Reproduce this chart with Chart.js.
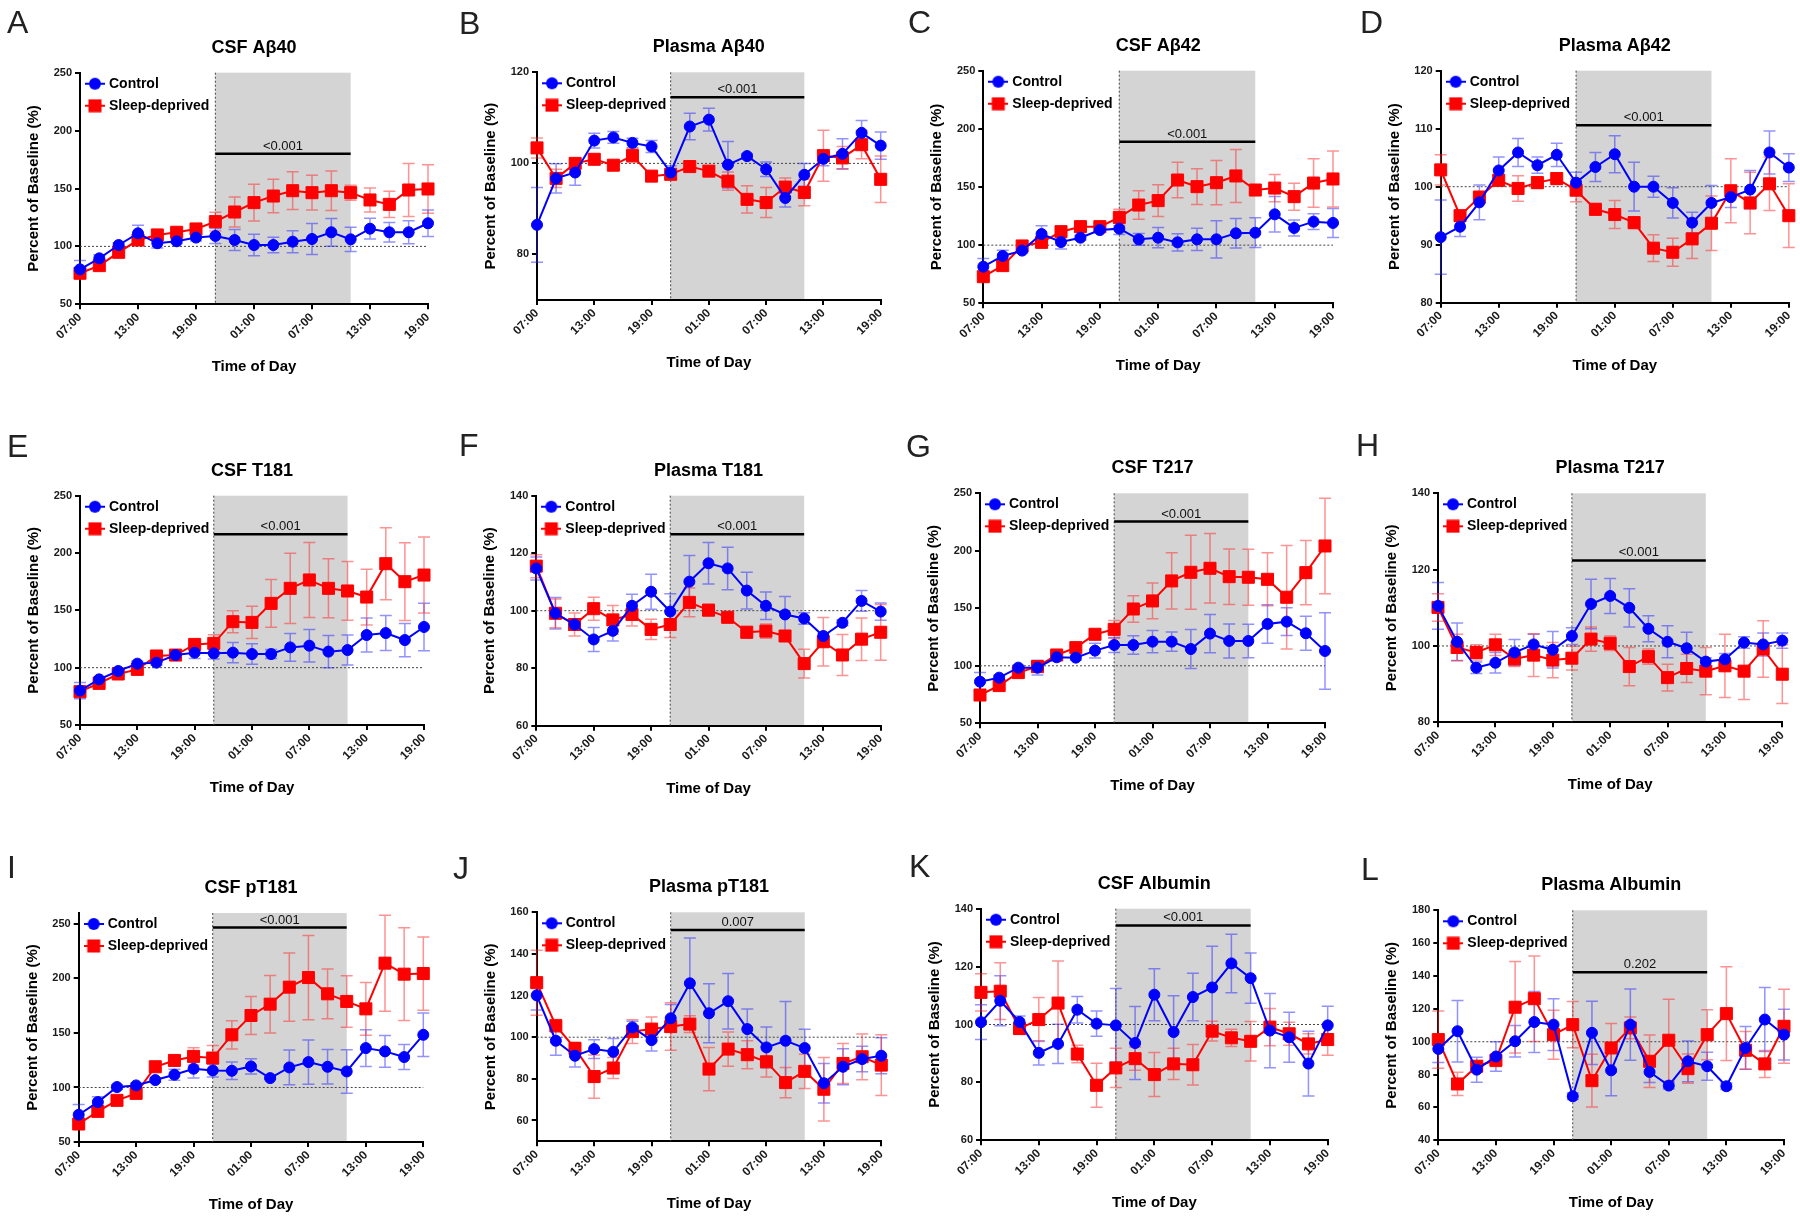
<!doctype html>
<html lang="en">
<head>
<meta charset="utf-8">
<title>Percent of baseline, control vs sleep-deprived</title>
<style>
  body { margin: 0; background: #fff; }
  #fig { position: relative; width: 1800px; height: 1217px; }
  #fig canvas { position: absolute; }
</style>
<script src="https://cdn.jsdelivr.net/npm/chart.js@4.4.0/dist/chart.umd.min.js"></script>
</head>
<body>
<div id="fig"></div>
<script>
// sampling times, every 2 h from 07:00 to 19:00 the next day
const times = ['07:00','09:00','11:00','13:00','15:00','17:00','19:00','21:00','23:00','01:00','03:00',
               '05:00','07:00','09:00','11:00','13:00','15:00','17:00','19:00'];
const nightFrom = 7, nightTo = 14;   // shaded window 21:00 -> 11:00

const letters = ['A','B','C','D','E','F','G','H','I','J','K','L'];
const titles = ['CSF Aβ40','Plasma Aβ40','CSF Aβ42','Plasma Aβ42','CSF T181','Plasma T181',
                'CSF T217','Plasma T217','CSF pT181','Plasma pT181','CSF Albumin','Plasma Albumin'];
const pValues = ['<0.001','<0.001','<0.001','<0.001','<0.001','<0.001','<0.001','<0.001','<0.001','0.007','<0.001','0.202'];
const sigLevel = [180, 114.5, 189, 110.6, 216.3, 126.6, 225.4, 122.4, 246.6, 151.5, 134.2, 142.3];
const yMin = [50, 70, 50, 80, 50, 60, 50, 80, 50, 50, 60, 40];
const yMax = [250, 120, 250, 120, 250, 140, 250, 140, 260, 160, 140, 180];
const yTicks = [
  [50,100,150,200,250], [80,100,120], [50,100,150,200,250], [80,90,100,110,120],
  [50,100,150,200,250], [60,80,100,120,140], [50,100,150,200,250], [80,100,120,140],
  [50,100,150,200,250], [60,80,100,120,140,160], [60,80,100,120,140], [40,60,80,100,120,140,160,180]
];

// mean and SEM, control (blue) and sleep-deprived (red)
const ctrlA = [80.2,89.7,101.2,111.3,102.7,104.4,107.6,109,105.5,101.2,101.2,104.1,106.4,112.2,106.1,115.3,112.2,112.2,120];
const ctrlSemA = [7.7,3,2,7,4,2,3,6.5,9,9.2,6.6,9.5,13.4,12,10.5,9,8.5,10,11.5];
const sleepA = [76.8,83.4,94.9,105.5,109.9,112.2,115,121.4,129.7,137.8,143.5,148.1,146.4,148.1,146.4,140.1,136.3,148.7,149.6];
const sleepSemA = [4,3,3,3,3,3,5,8,13,15.8,14.4,16.3,15,17,6.5,10.4,11.3,22.8,20.9];

const ctrlB = [86.5,96.7,98,105,105.7,104.5,103.7,98,108.1,109.6,99.7,101.6,98.7,92.4,97.5,101,102.1,106.7,103.9];
const ctrlSemB = [8.2,3.2,2.8,1.6,1.3,1,1.3,1.5,2.9,2.5,5.1,0.5,1.6,2,2.5,1.5,3.3,2.7,3];
const sleepB = [103.4,96.7,100,100.9,99.6,101.7,97.2,97.6,99.3,98.3,96.1,92.1,91.4,94.8,93.6,101.7,101.2,104.1,96.5];
const sleepSemB = [2.2,2,1,1,1,1.5,1,1,1,0.5,2,3,3.3,2,2.9,5.6,2.5,3.1,5.1];

const ctrlC = [81.5,90.7,95.3,109.6,102.7,106.4,113,114.2,105,106.4,102.4,105,105,110.2,110.7,126.5,114.8,120.2,119.1];
const ctrlSemC = [7,5,2,7,6,2,2,5,5,8.7,7.5,9.6,16,12.7,12.8,15.3,6.9,6.7,12.5];
const sleepC = [72.9,82.4,99.3,102.4,111.6,115.9,115.9,123.9,134.5,138.3,156,150.3,153.7,159.5,147.4,149.1,141.7,153.4,156.9];
const sleepSemC = [3,3,2,3,3,3,3,7,12.2,13.6,15.2,15.3,19,22.8,2,11.7,11.6,20.8,24];

const ctrlD = [91.3,93.1,97.3,102.8,105.9,103.7,105.5,100.7,103.4,105.6,100,100,97.2,93.8,97.2,98.2,99.5,105.9,103.3];
const ctrlSemD = [6.4,1.7,3,2.3,2.4,1.4,2,1.8,2.5,3.2,4.2,1.8,2.6,1.8,3,1.8,3.3,3.7,2.4];
const sleepD = [102.9,95,98.2,101.1,99.7,100.7,101.4,99.4,96.1,95.2,93.8,89.4,88.7,91,93.7,99.3,97.2,100.5,95];
const sleepSemD = [2.6,1,1,1,2.2,1,1,2,1,2.4,1,2.3,2.4,3.4,4.7,5.5,5.3,4.6,5.5];

const ctrlE = [80,89.8,97.1,103.5,104.4,111,113.1,112.5,113.1,111.9,111.9,117.7,119.2,114,115.4,128.5,130.2,124.1,135.5];
const ctrlSemE = [7,2,2,2,2,4,5,5,8.9,9,4,12,14.2,14,13,14.8,15.2,14.5,20.8];
const sleepE = [79.1,86.3,94.5,98.5,110.2,111,120.3,121.2,140.1,139.5,156.1,169.2,176.5,169.2,166.9,161.6,190.7,175,180.8];
const sleepSemE = [4,2,2,2,2,3,2,7.6,9.6,14.1,20.9,30.6,32.7,25.7,25.6,24.3,31.4,33.9,33.2];

const ctrlF = [114.7,99.1,95.2,90,93,101.7,106.6,99.7,110.1,116.5,114.7,107,101.7,98.7,97.3,91.2,95.8,103.4,99.7];
const ctrlSemF = [4,5.5,2,4.2,3.5,4,6.1,6.2,9.1,7.2,7.4,6.4,4.8,6.2,2,1,1,3.6,3];
const sleepF = [115.5,99.1,95.2,100.7,96.8,98.7,93.5,95.2,102.9,100.2,97.7,92.5,92.9,91.2,81.6,89.2,84.6,90.1,92.5];
const sleepSemF = [4,5,4,4,5,4,3.5,4.5,5,2,1,2,2.5,1,5,8.4,7.1,7.4,9.7];

const ctrlG = [86.2,89.7,98.4,98.4,107.4,107.1,113.2,118.1,118.1,121,121,114.6,128,121.6,121.6,136.4,138.4,128.3,112.9];
const ctrlSemG = [8,2,2,6.5,2,2,6.5,6.5,8,9.7,8.4,17,16.7,14.8,14.5,16.7,12,14.8,33.3];
const sleepG = [74.6,82.8,94.1,99.3,109.4,115.8,127.4,131.7,149.4,156.4,173.8,181.3,184.8,177.5,177,175.2,159.6,181,204.2];
const sleepSemG = [3,3,3,3,2,2,3,7.7,11.5,15.5,24.5,32.2,30.2,24.1,24.3,23,45,27.9,41.5];

const ctrlH = [110.5,101.1,94.3,95.6,98.3,100.4,99,102.6,111,113.1,110,104.5,101.1,99.4,95.9,96.5,100.9,100.4,101.4];
const ctrlSemH = [6.1,4.9,1.5,2.7,3.4,2.7,4.8,2.2,6.5,4.6,5,3.4,4.2,4.2,1,1.5,1.5,3,2];
const sleepH = [110.1,99.6,98.3,100.3,96.6,97.6,96.3,96.8,101.8,100.7,94.6,97.2,91.7,94.1,93.4,94.8,93.4,99.2,92.6];
const sleepSemH = [3.6,3.5,2,2.8,2,5.6,4.6,3.1,3.2,1.9,5,2,3.5,3.7,6.2,8.3,7.4,7.4,7.7];

const ctrlI = [75,86.6,100.4,101.9,106.8,111.7,117.2,115.6,115.3,119.3,108.6,118.4,123.3,119,114.7,136.1,133.1,127.9,148.3];
const ctrlSemI = [9.5,5,2,2,2,5,8.4,6,8.1,7,1,16,20.3,15.8,19.9,16.8,14.5,11.5,20];
const sleepI = [66.5,78.1,88.2,94.6,119,124.8,128.5,127,148.3,166,176.4,192,200.8,185.9,178.9,172.1,214,203.9,204.5];
const sleepSemI = [3,3,3,3,4,4,8,11.5,13,17.4,26.4,31.3,38.6,22.8,23.6,24.2,44,42.5,33.6];

const ctrlJ = [120.1,98.3,91.1,94.3,93,104.7,98.6,109.1,125.9,111.5,117.3,103.9,95.1,98.3,94.8,77.9,85.8,89.5,91.1];
const ctrlSemJ = [7,7,5.4,4.5,6.4,3,5.2,6.6,21.8,14.2,13.3,9.7,9.8,18.8,9,9.5,8.6,6.1,8.6];
const sleepJ = [126.2,105.5,94.6,81.1,85.2,102.7,103.9,105.1,106.3,84.7,94.3,91.6,88.2,78.2,83.6,75,87.4,90.6,86.6];
const sleepSemJ = [15.6,3,3,10.4,5,5.7,5.8,11.4,4,10.4,8.2,6.7,7.3,7.3,8.2,15.3,9.6,11,14.6];

const ctrlK = [100.8,108.2,100.9,90.2,93.3,105.1,100.3,99.7,93.6,110.3,97.4,109.5,112.8,121.1,116,97.9,95.6,86.5,99.7];
const ctrlSemK = [6,8.6,2,4.2,6.8,4.6,4.4,12.7,12.6,9,12.5,8.2,14.2,10.1,8.7,12.8,8.6,11.2,6.6];
const sleepK = [111.1,111.5,98.6,101.7,107.4,89.8,79,85,88.2,82.7,86.4,86.1,97.7,95.4,94.2,99.1,96.8,93.3,94.8];
const sleepSemK = [6.4,9.8,2,7.6,14.5,3,7.6,6.8,4,7.6,5.4,7,3.4,3,6.8,6.4,4,3.5,5.4];

const ctrlL = [95.6,106.4,83,91,100.3,112,110.4,66.8,105.4,82.6,110.4,81.6,73.3,88.1,85.1,72.9,96.2,113.5,104.3];
const ctrlSemL = [8.3,18.7,7.6,9,9.6,18.6,15.7,2,19.2,15.5,21.7,6.4,2,12.4,8.5,2,13,19.5,15.4];
const sleepL = [101.3,74.3,85.1,88.7,121,126.2,104.3,110.4,76.3,96.2,108.4,88.1,100.9,83.6,104.3,117.1,94.8,86.5,109.4];
const sleepSemL = [17.4,7.1,3,3.8,27.9,26,14.9,14.1,16.1,14.9,6.6,16,25,8.9,15.2,28.5,11.5,8.2,22.5];

const series = [
  [ctrlA, ctrlSemA, sleepA, sleepSemA], [ctrlB, ctrlSemB, sleepB, sleepSemB],
  [ctrlC, ctrlSemC, sleepC, sleepSemC], [ctrlD, ctrlSemD, sleepD, sleepSemD],
  [ctrlE, ctrlSemE, sleepE, sleepSemE], [ctrlF, ctrlSemF, sleepF, sleepSemF],
  [ctrlG, ctrlSemG, sleepG, sleepSemG], [ctrlH, ctrlSemH, sleepH, sleepSemH],
  [ctrlI, ctrlSemI, sleepI, sleepSemI], [ctrlJ, ctrlSemJ, sleepJ, sleepSemJ],
  [ctrlK, ctrlSemK, sleepK, sleepSemK], [ctrlL, ctrlSemL, sleepL, sleepSemL]
];

// page layout: panel cells and plot areas [left, top, right, bottom] in page pixels
const colX = [0, 448, 900, 1349], colW = [448, 452, 449, 451];
const rowY = [0, 395, 808], rowH = [395, 413, 409];
const plotBoxes = [
  [80, 72.7, 428, 304.3], [537, 72.3, 880.7, 300], [983.3, 70.7, 1333, 303.3], [1440.7, 70.7, 1790.7, 302.7],
  [80, 495.7, 424, 725], [536.3, 495.7, 880.7, 725.7], [980, 493.3, 1325, 723.3], [1438, 493.3, 1782.3, 722.3],
  [78.7, 913, 423.3, 1142], [536.7, 912.3, 881.3, 1141.3], [981, 908.7, 1327.7, 1140.3], [1438.3, 910.3, 1784, 1140.3]
];
const letterPos = [
  [7, 33], [459, 34], [908, 33], [1360, 33],
  [7, 457], [459, 456], [906, 457], [1356, 456],
  [7, 878], [453, 879], [909, 877], [1361, 880]
];
const Y_AXIS_W = 62, X_AXIS_H = 75;

const BLUE = '#0000ff', RED = '#ff0000';
const FONT = "'Liberation Sans', Arial, Helvetica, sans-serif";
Chart.defaults.font.family = FONT;

function legendIcon(color, shape) {
  const c = document.createElement('canvas');
  c.width = 20; c.height = 14;
  const g = c.getContext('2d');
  g.strokeStyle = color; g.fillStyle = color; g.lineWidth = 2;
  g.beginPath(); g.moveTo(0, 7); g.lineTo(20, 7); g.stroke();
  if (shape === 'circle') { g.beginPath(); g.arc(10, 7, 6, 0, Math.PI * 2); g.fill(); }
  else g.fillRect(3.5, 0.5, 13, 13);
  return c;
}
const icons = [legendIcon(BLUE, 'circle'), legendIcon(RED, 'rect')];

function makeDeco(k, cx, cy) {
  return {
    id: 'deco',
    afterLayout(chart) {
      // legend sits inside the plot, top-left
      const a = chart.chartArea, lg = chart.legend;
      lg.left = a.left; lg.right = a.right; lg.top = a.top - 4; lg.bottom = a.bottom;
    },
    beforeDraw(chart) {
      const {ctx, chartArea: a} = chart, x = chart.scales.x;
      const x0 = x.getPixelForValue(nightFrom), x1 = x.getPixelForValue(nightTo);
      ctx.save();
      ctx.fillStyle = '#d4d4d4';
      ctx.fillRect(x0, a.top, x1 - x0, a.bottom - a.top);
      ctx.restore();
    },
    beforeDatasetsDraw(chart) {
      const {ctx, chartArea: a} = chart, x = chart.scales.x, y = chart.scales.y;
      ctx.save();
      ctx.strokeStyle = '#444'; ctx.lineWidth = 1; ctx.setLineDash([2, 2]);
      const yb = y.getPixelForValue(100), xv = x.getPixelForValue(nightFrom);
      ctx.beginPath();
      ctx.moveTo(a.left, yb); ctx.lineTo(a.right, yb);
      ctx.moveTo(xv, a.top); ctx.lineTo(xv, a.bottom);
      ctx.stroke();
      ctx.setLineDash([]);
      // SEM error bars
      chart.data.datasets.forEach((ds, i) => {
        ctx.strokeStyle = ds.errColor; ctx.lineWidth = 1.5;
        chart.getDatasetMeta(i).data.forEach((pt, j) => {
          const v = ds.data[j], e = ds.sem[j];
          const yt = y.getPixelForValue(v + e), ybt = y.getPixelForValue(v - e);
          ctx.beginPath();
          ctx.moveTo(pt.x, yt); ctx.lineTo(pt.x, ybt);
          ctx.moveTo(pt.x - 6, yt); ctx.lineTo(pt.x + 6, yt);
          ctx.moveTo(pt.x - 6, ybt); ctx.lineTo(pt.x + 6, ybt);
          ctx.stroke();
        });
      });
      ctx.restore();
    },
    afterDatasetsDraw(chart) {
      const ctx = chart.ctx, x = chart.scales.x, y = chart.scales.y;
      const x0 = x.getPixelForValue(nightFrom), x1 = x.getPixelForValue(nightTo);
      const ys = y.getPixelForValue(sigLevel[k]);
      ctx.save();
      ctx.strokeStyle = '#000'; ctx.lineWidth = 2.5;
      ctx.beginPath(); ctx.moveTo(x0, ys); ctx.lineTo(x1, ys); ctx.stroke();
      ctx.fillStyle = '#111'; ctx.font = '13px ' + FONT;
      ctx.textAlign = 'center'; ctx.textBaseline = 'alphabetic';
      ctx.fillText(pValues[k], (x0 + x1) / 2, ys - 4);
      ctx.restore();
    },
    afterDraw(chart) {
      const {ctx, chartArea: a} = chart;
      ctx.save();
      ctx.fillStyle = '#222'; ctx.font = '32px ' + FONT;
      ctx.textAlign = 'left'; ctx.textBaseline = 'alphabetic';
      ctx.fillText(letters[k], letterPos[k][0] - cx, letterPos[k][1] - cy);
      ctx.fillStyle = '#000'; ctx.font = 'bold 18px ' + FONT;
      ctx.textAlign = 'center'; ctx.textBaseline = 'middle';
      ctx.fillText(titles[k], (a.left + a.right) / 2, a.top - 25);
      ctx.restore();
    }
  };
}

const fig = document.getElementById('fig');
series.forEach((s, k) => {
  const r = Math.floor(k / 4), c = k % 4;
  const cx = colX[c], cy = rowY[r], cw = colW[c], ch = rowH[r];
  const [L, T, R, B] = plotBoxes[k];
  const cv = document.createElement('canvas');
  cv.width = cw; cv.height = ch;
  cv.style.left = cx + 'px'; cv.style.top = cy + 'px';
  fig.appendChild(cv);

  const axisCommon = {
    border: { display: true, color: '#000', width: 2 },
    grid: { display: true, drawOnChartArea: false, color: '#000', lineWidth: 2, tickLength: 5 },
  };

  new Chart(cv, {
    type: 'line',
    data: {
      labels: times,
      datasets: [
        { label: 'Control', data: s[0], sem: s[1], errColor: 'rgba(40,40,255,0.5)',
          borderColor: BLUE, backgroundColor: BLUE, borderWidth: 2, tension: 0,
          pointStyle: 'circle', pointRadius: 5.5, pointBorderWidth: 1,
          pointBackgroundColor: BLUE, pointBorderColor: BLUE, clip: false },
        { label: 'Sleep-deprived', data: s[2], sem: s[3], errColor: 'rgba(255,40,40,0.5)',
          borderColor: RED, backgroundColor: RED, borderWidth: 2, tension: 0,
          pointStyle: 'rect', pointRadius: 8.5, pointBorderWidth: 1,
          pointBackgroundColor: RED, pointBorderColor: RED, clip: false }
      ]
    },
    options: {
      responsive: false, animation: false, devicePixelRatio: 1, events: [],
      layout: { padding: { left: L - cx - Y_AXIS_W, top: T - cy, right: cx + cw - R, bottom: cy + ch - B - X_AXIS_H } },
      scales: {
        x: Object.assign({}, axisCommon, {
          afterBuildTicks: sc => { sc.ticks = sc.ticks.filter(t => t.value % 3 === 0); },
          afterFit: sc => { sc.height = X_AXIS_H; },
          ticks: { autoSkip: false, minRotation: 45, maxRotation: 45, padding: 1, color: '#1a1a1a',
                   font: { size: 12, weight: 'bold' } },
          title: { display: true, text: 'Time of Day', color: '#000', font: { size: 15, weight: 'bold' },
                   padding: { top: 0, bottom: 3 } }
        }),
        y: Object.assign({}, axisCommon, {
          min: yMin[k], max: yMax[k],
          afterBuildTicks: sc => { sc.ticks = yTicks[k].map(v => ({ value: v })); },
          afterFit: sc => { sc.width = Y_AXIS_W; },
          ticks: { padding: 3, color: '#1a1a1a', font: { size: 11, weight: 'bold' } },
          title: { display: true, text: 'Percent of Baseline (%)', color: '#000', font: { size: 15, weight: 'bold' },
                   padding: { top: 7, bottom: 0 } }
        })
      },
      plugins: {
        tooltip: { enabled: false },
        legend: {
          position: 'chartArea', align: 'start',
          labels: {
            usePointStyle: true, pointStyleWidth: 14, padding: 8, color: '#000',
            font: { size: 14, weight: 'bold' },
            generateLabels: chart => {
              const items = Chart.defaults.plugins.legend.labels.generateLabels(chart);
              items.forEach((it, i) => { it.pointStyle = icons[i]; });
              return items;
            }
          }
        }
      }
    },
    plugins: [makeDeco(k, cx, cy)]
  });
});
</script>
</body>
</html>
